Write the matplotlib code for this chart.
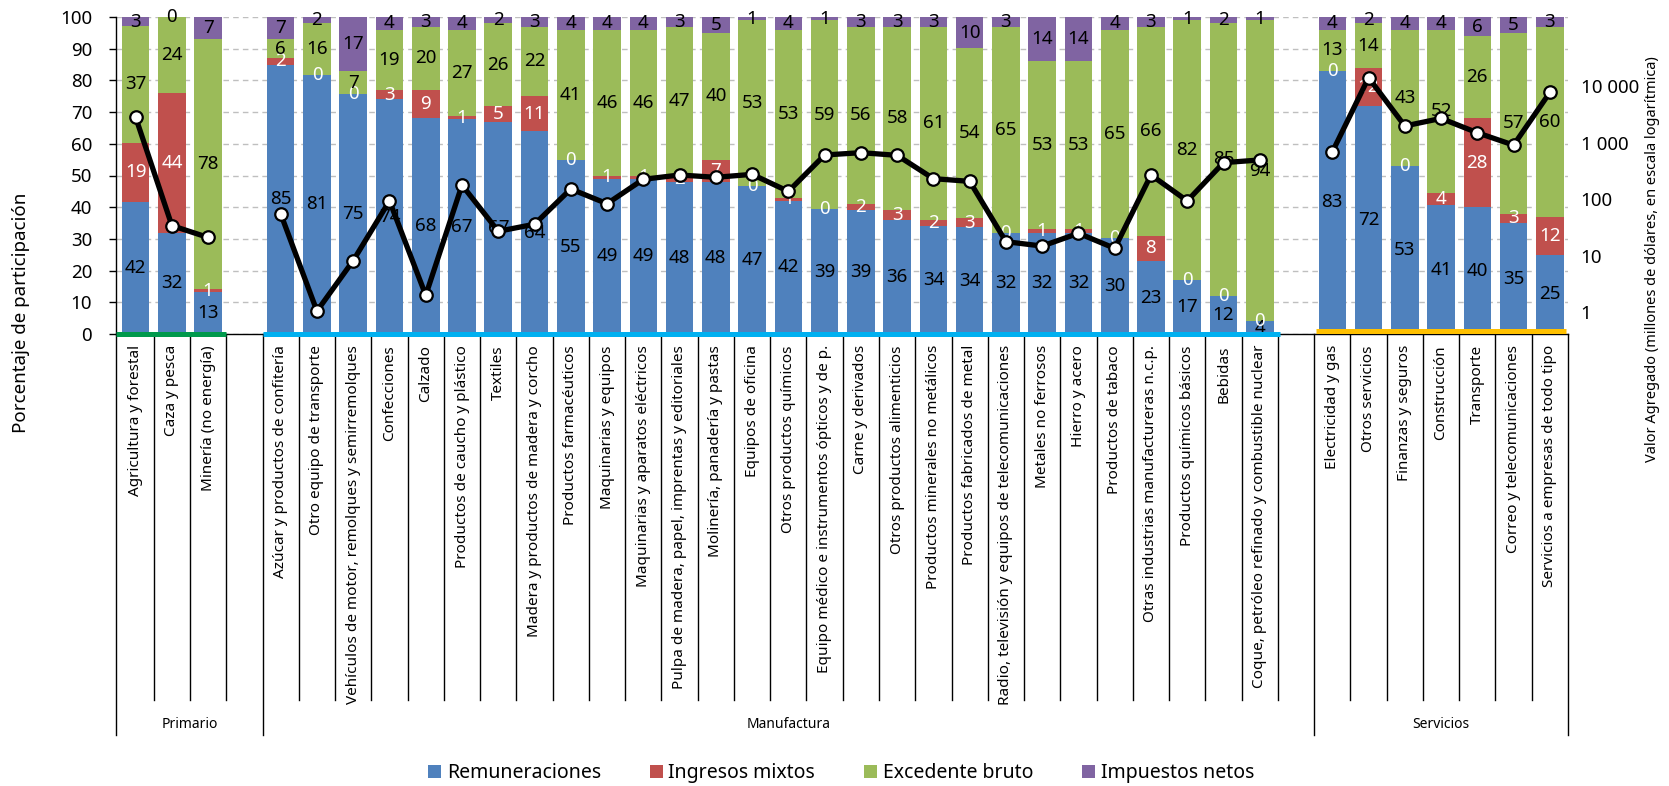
import numpy as np
import matplotlib
matplotlib.use('Agg')
import matplotlib.pyplot as plt
from matplotlib.patches import Patch
import matplotlib.transforms as mtransforms
from matplotlib.ticker import FixedLocator, FuncFormatter, NullLocator, MultipleLocator

plt.rcParams['font.family'] = ['Noto Sans', 'DejaVu Sans']

# ---------------- data ----------------
groups = ['Primario', 'Manufactura', 'Servicios']
primario = ['Agricultura y forestal', 'Caza y pesca', 'Minería (no energía)']
manufactura = [
    'Azúcar y productos de confitería', 'Otro equipo de transporte',
    'Vehículos de motor, remolques y semirremolques', 'Confecciones', 'Calzado',
    'Productos de caucho y plástico', 'Textiles', 'Madera y productos de madera y corcho',
    'Productos farmacéuticos', 'Maquinarias y equipos', 'Maquinarias y aparatos eléctricos',
    'Pulpa de madera, papel, imprentas y editoriales', 'Molinería, panadería y pastas',
    'Equipos de oficina', 'Otros productos químicos',
    'Equipo médico e instrumentos ópticos y de p.', 'Carne y derivados',
    'Otros productos alimenticios', 'Productos minerales no metálicos',
    'Productos fabricados de metal', 'Radio, televisión y equipos de telecomunicaciones',
    'Metales no ferrosos', 'Hierro y acero', 'Productos de tabaco',
    'Otras industrias manufactureras n.c.p.', 'Productos químicos básicos', 'Bebidas',
    'Coque, petróleo refinado y combustible nuclear']
servicios = ['Electricidad y gas', 'Otros servicios', 'Finanzas y seguros', 'Construcción',
             'Transporte', 'Correo y telecomunicaciones', 'Servicios a empresas de todo tipo']

remuneraciones = [42, 32, 13,
                  85, 81, 75, 74, 68, 67, 67, 64, 55, 49, 49, 48, 48, 47, 42, 39, 39, 36, 34, 34,
                  32, 32, 32, 30, 23, 17, 12, 4,
                  83, 72, 53, 41, 40, 35, 25]
ingresos_mixtos = [19, 44, 1,
                   2, 0, 0, 3, 9, 1, 5, 11, 0, 1, 1, 2, 7, 0, 1, 0, 2, 3, 2, 3,
                   0, 1, 1, 0, 8, 0, 0, 0,
                   0, 12, 0, 4, 28, 3, 12]
excedente_bruto = [37, 24, 78,
                   6, 16, 7, 19, 20, 27, 26, 22, 41, 46, 46, 47, 40, 53, 53, 59, 56, 58, 61, 54,
                   65, 53, 53, 65, 66, 82, 85, 94,
                   13, 14, 43, 52, 26, 57, 60]
impuestos_netos = [3, 0, 7,
                   7, 2, 17, 4, 3, 4, 2, 3, 4, 4, 4, 3, 5, 1, 4, 1, 3, 3, 3, 10,
                   3, 14, 14, 4, 3, 1, 2, 1,
                   4, 2, 4, 4, 6, 5, 3]
valor_agregado = [2790, 34, 21,
                  55, 1.05, 8.2, 93, 2.0, 177, 27, 36, 151, 83, 224, 267, 243, 274, 137, 602,
                  662, 594, 230, 206, 17.7, 14.8, 24.9, 13.5, 267, 93, 441, 492,
                  680, 14000, 1960, 2670, 1490, 900, 7690]

series_names = ['Remuneraciones', 'Ingresos mixtos', 'Excedente bruto', 'Impuestos netos']
series_colors = ['#4F81BD', '#C0504D', '#9BBB59', '#8064A2']
label_colors = ['black', 'white', 'black', 'black']
group_colors = ['#00994C', '#00B0F0', '#FFC000']

# ---------------- layout ----------------
W, H = 1669, 786
fig = plt.figure(figsize=(W / 100, H / 100), dpi=100)
ax_l, ax_r, ax_t, ax_b = 115.7, 1568, 17, 334
ax = fig.add_axes([ax_l / W, 1 - ax_b / H, (ax_r - ax_l) / W, (ax_b - ax_t) / H])

group_lists = [primario, manufactura, servicios]
positions, categories, group_spans = [], [], []
start = 0
for g in group_lists:
    p = list(range(start, start + len(g)))
    positions += p
    categories += g
    group_spans.append((p[0], p[-1]))
    start += len(g) + 1
positions = np.array(positions, dtype=float)

data = np.array([remuneraciones, ingresos_mixtos, excedente_bruto, impuestos_netos], dtype=float)
shares = data / data.sum(axis=0) * 100  # 100% stacked

bottom = np.zeros(len(positions))
for i in range(4):
    cont = ax.bar(positions, shares[i], bottom=bottom, width=0.76, color=series_colors[i],
                  edgecolor='none', zorder=2)
    ax.bar_label(cont, labels=[f'{int(v)}' for v in data[i]], label_type='center',
                 color=label_colors[i], fontsize=13.5, zorder=3)
    bottom += shares[i]

ax.set_xlim(-0.55, 39.5)
ax.set_ylim(0, 100)
ax.yaxis.set_major_locator(MultipleLocator(10))
ax.tick_params(axis='y', direction='out', length=5, width=1, pad=12, labelsize=13.5)
ax.grid(axis='y', color='#BFBFBF', linestyle=(0, (4, 3)), linewidth=1)
ax.set_axisbelow(True)
for s in ['top', 'right']:
    ax.spines[s].set_visible(False)
ax.spines['left'].set_linewidth(1)
ax.spines['bottom'].set_linewidth(1)

ax.set_xticks(positions)
ax.set_xticklabels(categories, rotation=90, fontsize=11, va='top', ha='center')
ax.tick_params(axis='x', length=0, pad=8)

# separators under the category axis
trans = mtransforms.blended_transform_factory(ax.transData, ax.transAxes)
ax_h = ax_b - ax_t
y_cat = -(700 - ax_b) / ax_h
y_grp = -(735 - ax_b) / ax_h
group_bounds = [-0.55, 3.5, 32.5, 39.5]
for b in np.arange(-0.5, 40.0, 1.0):
    xb = -0.55 if b == -0.5 else b
    is_grp = any(abs(xb - gb) < 1e-6 for gb in group_bounds)
    ax.plot([xb, xb], [0, y_grp if is_grp else y_cat], color='black', lw=1,
            transform=trans, clip_on=False, zorder=1)
for gi, gname in enumerate(groups):
    xc = (group_bounds[gi] + group_bounds[gi + 1]) / 2 if gi else 1.5
    ax.text(xc, -(724 - ax_b) / ax_h, gname, transform=trans, ha='center', va='center',
            fontsize=10)

# coloured group underlines
under = [(-0.55, 2.5, 0.0), (3.52, 31.55, 0.0), (32.55, 39.45, 0.8)]
for (x0, x1, yv), c in zip(under, group_colors):
    ax.plot([x0, x1], [yv, yv], color=c, lw=3.6, solid_capstyle='butt', clip_on=False,
            zorder=4)

# value-added line (log scale)
ax2 = ax.twinx()
ax2.set_yscale('log')
ax2.set_ylim(10 ** (-6.85 / 17.85), 10 ** ((100 - 6.85) / 17.85))
ax2.set_xlim(ax.get_xlim())
va = np.array(valor_agregado, dtype=float)
idx = 0
for g in group_lists:
    n = len(g)
    ax2.plot(positions[idx:idx + n], va[idx:idx + n], color='black', lw=3.8, marker='o',
             markersize=9, markerfacecolor='white', markeredgecolor='black',
             markeredgewidth=1.6, zorder=5)
    idx += n
ax2.yaxis.set_major_locator(FixedLocator([1, 10, 100, 1000, 10000]))
ax2.yaxis.set_minor_locator(NullLocator())
ax2.yaxis.set_major_formatter(FuncFormatter(lambda v, p: f'{int(round(v)):,}'.replace(',', ' ')))
ax2.tick_params(axis='y', length=0, pad=9, labelsize=13.5)
for s in ax2.spines.values():
    s.set_visible(False)

# axis titles
fig.text(21 / W, 1 - 313 / H, 'Porcentaje de participación', rotation=90, ha='center',
         va='center', fontsize=13.5)
fig.text(1652 / W, 1 - 259 / H, 'Valor Agregado (millones de dólares, en escala logarítmica)',
         rotation=90, ha='center', va='center', fontsize=10.5)

# legend
handles = [Patch(facecolor=c, edgecolor='none') for c in series_colors]
fig.legend(handles, series_names, loc='center', bbox_to_anchor=(841 / W, 1 - 773 / H),
           ncol=4, frameon=False, fontsize=14, handlelength=0.67, handleheight=0.67,
           handletextpad=0.3, columnspacing=2.5, borderaxespad=0)

fig.savefig('out.png', dpi=100)
